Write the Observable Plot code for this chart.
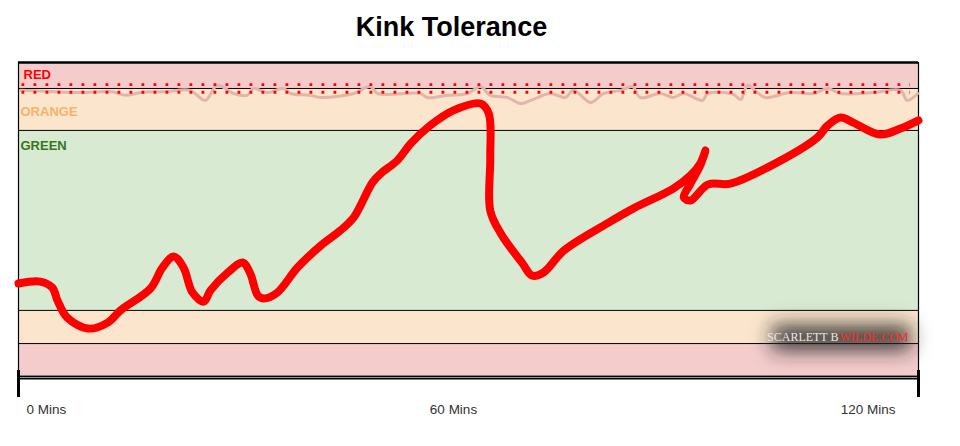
<!DOCTYPE html>
<html><head><meta charset="utf-8">
<script src="https://cdn.jsdelivr.net/npm/d3@7"></script>
<script src="https://cdn.jsdelivr.net/npm/@observablehq/plot@0.6"></script>
<style>body{margin:0;background:#fff;} svg{display:block;}</style>
</head><body><div id="chart"></div>
<script>
const title = "Kink Tolerance";
// main hand-drawn tolerance path (minutes, tolerance 0-100)
const minutes = [0, 2.9, 4.5, 5.2, 6.5, 9.3, 11.9, 13.6, 17.6, 19.2, 20.7, 22.0, 23.2, 24.7, 25.6, 27.9, 29.9, 30.9, 31.9, 32.7, 34.5, 37.2, 40.3, 42.9, 44.7, 47.2, 48.3, 50.5, 52.3, 54.9, 58.0, 61.6, 62.7, 62.9, 62.9, 64.3, 67.2, 68.5, 70.0, 72.7, 78.5, 82.0, 87.3, 89.6, 90.9, 91.6, 90.9, 89.6, 88.7, 89.6, 91.9, 94.9, 99.9, 106.5, 107.9, 109.6, 111.3, 114.9, 117.6, 120];
const tolerance = [29.4, 30.0, 28.1, 24.0, 18.5, 15.0, 16.9, 20.8, 27.8, 34.5, 38.0, 34.5, 26.5, 23.6, 27.2, 32.9, 36.1, 32.6, 25.6, 24.6, 26.5, 34.5, 41.5, 46.3, 50.5, 61.7, 64.5, 68.7, 74.1, 79.9, 84.7, 86.9, 83.7, 69.6, 52.7, 45.4, 35.8, 31.9, 32.9, 39.9, 48.6, 53.4, 59.7, 63.9, 67.7, 71.9, 67.1, 61.3, 56.9, 55.9, 61.0, 61.3, 66.5, 76.0, 79.9, 82.4, 80.8, 77.0, 78.9, 81.5];
// faint squiggle near the limit
const noiseMinutes = [0.3,4.3,8.3,12.3,14.3,16.3,19.6,22.9,24.9,26.5,28.7,30.5,31.3,33.2,35.3,36.3,38.9,40.3,44.7,46.9,47.9,53.6,54.5,57.2,59.9,61.6,62.9,65.2,66.9,68.3,70.9,72.9,74.0,76.3,78.0,80.3,81.9,82.9,85.6,87.3,88.7,91.2,91.9,95.3,96.3,97.2,98.5,99.6,102.9,106.0,107.9,109.6,114.0,117.6,118.5,119.9];
const noiseValues = [91.1,90.7,90.4,90.7,89.5,90.4,90.7,91.1,87.9,92.7,90.1,89.5,91.7,90.4,91.7,90.1,89.5,88.8,90.1,92.3,90.1,90.1,88.8,89.5,90.1,92.3,89.5,88.8,86.9,87.9,90.1,88.8,91.1,87.2,90.1,91.1,92.3,88.8,90.1,88.8,90.1,87.9,90.1,89.8,88.2,92.7,90.4,88.8,90.4,90.1,91.7,90.1,90.4,91.1,87.9,90.1];
// bands
const bandNames = ["RED", "ORANGE", "GREEN", "ORANGE", "RED"];
const bandLow = [0, 10.2, 20.8, 78.3, 91.7];
const bandHigh = [10.2, 20.8, 78.3, 91.7, 100];
const limitLines = [92.9, 90.5];
// axis
const tickMinutes = [0, 60, 120];
const tickLabels = ["0 Mins", "60 Mins", "120 Mins"];
const watermark = ["SCARLETT B", "WILDE.COM"];

const bandFill = {RED: "#f4cccc", ORANGE: "#fce5cd", GREEN: "#d9ead3"};
const path = minutes.map((m, i) => ({m, v: tolerance[i]}));
const noise = noiseMinutes.map((m, i) => ({m, v: noiseValues[i]}));
const bands = bandNames.map((name, i) => ({name, low: bandLow[i], high: bandHigh[i]}));
const ticks = tickMinutes.map((m, i) => ({m, label: tickLabels[i]}));

const font = "'Liberation Sans', Arial, sans-serif";
const serif = "'Liberation Serif', 'DejaVu Serif', serif";
const chart = Plot.plot({
  width: 960, height: 446,
  marginLeft: 18, marginRight: 42, marginTop: 62, marginBottom: 71,
  x: {domain: [0, 120], axis: null},
  y: {domain: [0, 100], axis: null},
  style: {background: "#fff", fontFamily: font, overflow: "visible"},
  marks: [
    Plot.rectY(bands, {x1: () => 0, x2: () => 120, y1: "low", y2: "high", fill: d => bandFill[d.name]}),
    Plot.ruleY(bandLow.slice(1), {stroke: "#000", strokeWidth: 1}),
    Plot.ruleY([100], {stroke: "#000", strokeWidth: 2.5}),
    Plot.ruleX([0, 120], {stroke: "#000", strokeWidth: 1.2}),
    Plot.ruleY([0], {stroke: "#000", strokeWidth: 4, dy: 2, insetLeft: 2}),
    Plot.ruleY([0], {stroke: "#9a9a9a", strokeWidth: 1, dy: 2, insetLeft: 2}),
    Plot.ruleX(tickMinutes.filter(d => d !== 60), {stroke: "#000", strokeWidth: 3, insetTop: 308, insetBottom: -22}),
    Plot.text(["RED"], {frameAnchor: "top-left", textAnchor: "start", lineAnchor: "middle", dx: 5, dy: 12, fill: "#ff0000", fontWeight: "bold", fontSize: 13}),
    Plot.text(["ORANGE"], {frameAnchor: "top-left", textAnchor: "start", lineAnchor: "middle", dx: 2, dy: 49, fill: "#f6b26b", fontWeight: "bold", fontSize: 13}),
    Plot.text(["GREEN"], {frameAnchor: "top-left", textAnchor: "start", lineAnchor: "middle", dx: 2, dy: 83, fill: "#38761d", fontWeight: "bold", fontSize: 13}),
    Plot.line(noise, {x: "m", y: "v", stroke: "#e2b4ae", strokeWidth: 3, curve: "catmull-rom"}),
    Plot.ruleY(limitLines, {stroke: "#ff0000", strokeWidth: 2.8, strokeDasharray: "2.8 9.2", insetLeft: 3.5, insetRight: 8}),
    Plot.line(path, {x: "m", y: "v", stroke: "#ff0000", strokeWidth: 8, curve: "catmull-rom", strokeLinecap: "round", strokeLinejoin: "round"}),
    Plot.rect([0], {x1: () => 100.5, x2: () => 119, y1: () => 7.8, y2: () => 16, fill: "#262626", fillOpacity: 0.85}),
    Plot.text([watermark[0]], {frameAnchor: "bottom-right", textAnchor: "end", lineAnchor: "middle", dx: -80, dy: -38, fill: "#ece6e6", fontFamily: serif, fontSize: 12}),
    Plot.text([watermark[1]], {frameAnchor: "bottom-right", textAnchor: "start", lineAnchor: "middle", dx: -79, dy: -38, fill: "#ff2a2a", fontFamily: serif, fontSize: 12}),
    Plot.text(ticks.filter(d => d.m === 0), {x: "m", text: "label", frameAnchor: "bottom", textAnchor: "start", lineAnchor: "middle", dx: 8, dy: 34, fill: "#333", fontSize: 13.5}),
    Plot.text(ticks.filter(d => d.m === 60), {x: "m", text: "label", frameAnchor: "bottom", textAnchor: "middle", lineAnchor: "middle", dx: -15, dy: 34, fill: "#333", fontSize: 13.5}),
    Plot.text(ticks.filter(d => d.m === 120), {x: "m", text: "label", frameAnchor: "bottom", textAnchor: "end", lineAnchor: "middle", dx: -23, dy: 34, fill: "#333", fontSize: 13.5}),
    Plot.text([title], {frameAnchor: "top", lineAnchor: "middle", dx: -17, dy: -35, fill: "#000", fontWeight: "bold", fontSize: 27})
  ]
});
// soften the watermark backdrop
const svg = d3.select(chart);
svg.insert("defs", ":first-child").append("filter").attr("id", "wmblur")
  .attr("x", "-50%").attr("y", "-150%").attr("width", "200%").attr("height", "400%")
  .append("feGaussianBlur").attr("stdDeviation", 7);
svg.selectAll("[fill='#262626']").attr("filter", "url(#wmblur)");
svg.selectAll("rect").filter(function() { return this.getAttribute("fill") === "#262626" || (this.parentNode && this.parentNode.getAttribute && this.parentNode.getAttribute("fill") === "#262626"); }).attr("filter", "url(#wmblur)");
document.getElementById("chart").appendChild(chart);
</script>
</body></html>
